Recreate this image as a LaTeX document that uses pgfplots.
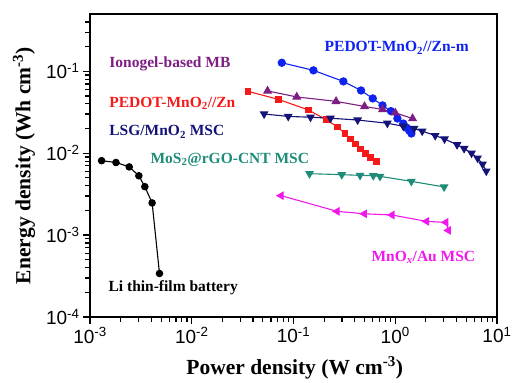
\documentclass[border=0pt]{standalone}
\usepackage{fontspec}
\setmainfont{Liberation Serif}
\setsansfont{Liberation Sans}
\usepackage{pgfplots}
\pgfplotsset{compat=1.18}
\definecolor{cBlue}{RGB}{15,35,240}
\definecolor{cPurple}{RGB}{125,30,130}
\definecolor{cRed}{RGB}{245,25,25}
\definecolor{cNavy}{RGB}{20,20,120}
\definecolor{cTeal}{RGB}{30,140,120}
\definecolor{cMag}{RGB}{240,25,235}
\newcommand{\lab}{\fontsize{15.5}{15.5}\selectfont\bfseries}
\newcommand{\axlab}{\fontsize{21.5}{21.5}\selectfont\bfseries}
\begin{document}
\begin{tikzpicture}
\begin{axis}[
  scale only axis,
  width=407pt, height=303pt,
  xmode=log, ymode=log,
  log basis x=10, log basis y=10,
  xmin=1e-3, xmax=10, ymin=1e-4, ymax=0.5,
  axis line style={line width=1.6pt},
  xtick pos=bottom, ytick pos=left,
  tick align=outside,
  xtick={1e-3,1e-2,1e-1,1,10},
  ytick={1e-4,1e-3,1e-2,1e-1},
  major tick length=7pt,
  tick style={black, line width=1.2pt},
  % intermediate ticks within each decade
  extra x ticks={2e-3,3e-3,4e-3,5e-3,6e-3,7e-3,8e-3,9e-3,
               2e-2,3e-2,4e-2,5e-2,6e-2,7e-2,8e-2,9e-2,
               0.2,0.3,0.4,0.5,0.6,0.7,0.8,0.9,2,3,4,5,6,7,8,9},
  extra y ticks={2e-4,3e-4,4e-4,5e-4,6e-4,7e-4,8e-4,9e-4,
               2e-3,3e-3,4e-3,5e-3,6e-3,7e-3,8e-3,9e-3,
               2e-2,3e-2,4e-2,5e-2,6e-2,7e-2,8e-2,9e-2,0.2,0.3,0.4},
  extra x tick labels={}, extra y tick labels={},
  extra tick style={major tick length=4.5pt},
  xticklabel={10\textsuperscript{\pgfmathparse{int(round(\tick))}\pgfmathresult}},
  yticklabel={10\textsuperscript{\pgfmathparse{int(round(\tick))}\pgfmathresult}},
  ticklabel style={font=\fontsize{19}{19}\selectfont\sffamily},
  xlabel={Power density (W cm\textsuperscript{-3})},
  ylabel={Energy density (Wh cm\textsuperscript{-3})},
  every axis x label/.style={at={(rel axis cs:0.503,-0.168)}, anchor=center, font=\axlab},
  every axis y label/.style={at={(rel axis cs:-0.162,0.5)}, anchor=center, rotate=90, font=\axlab},
  every axis plot/.append style={line width=1.1pt},
  clip=false,
]
% Li thin-film battery
\addplot[black, mark=*, mark size=3.2pt] coordinates {
 (1.30e-3,8.1e-3) (1.80e-3,7.7e-3) (2.43e-3,6.8e-3) (3.02e-3,5.3e-3)
 (3.46e-3,3.9e-3) (4.08e-3,2.47e-3) (4.82e-3,3.4e-4)};
% PEDOT-MnO2//Zn-m
\addplot[cBlue, mark=*, mark size=3.6pt] coordinates {
 (0.0767,0.127) (0.157,0.1026) (0.309,0.0752) (0.461,0.0583) (0.601,0.0466)
 (0.750,0.0383) (0.907,0.0326) (1.05,0.0265) (1.20,0.0230) (1.30,0.0204)
 (1.37,0.0189) (1.44,0.0174)};
% Ionogel-based MB
\addplot[cPurple, mark=triangle*, mark size=4.2pt] coordinates {
 (0.0556,0.0575) (0.1076,0.0486) (0.262,0.0429) (0.499,0.0372)
 (0.750,0.0342) (1.0,0.0311) (1.48,0.0265)};
% PEDOT-MnO2//Zn
\addplot[cRed, mark=square*, mark size=2.7pt] coordinates {
 (0.0358,0.0568) (0.0713,0.0453) (0.140,0.0337) (0.211,0.0256) (0.272,0.0208)
 (0.320,0.0174) (0.362,0.0150) (0.406,0.0129) (0.454,0.0113) (0.508,0.00998)
 (0.569,0.00883) (0.652,0.00789)};
% LSG/MnO2 MSC
\addplot[cNavy, mark=triangle*, mark options={rotate=180}, mark size=4pt] coordinates {
 (0.0514,0.0301) (0.0887,0.0281) (0.147,0.0275) (0.231,0.0267) (0.427,0.0254)
 (0.836,0.0232) (1.20,0.0213) (1.53,0.0200) (1.84,0.0186) (2.47,0.0164)
 (3.05,0.0149) (4.05,0.0127) (4.75,0.0114) (5.62,0.0100) (6.44,0.00871)
 (7.21,0.00736) (7.85,0.00604)};
% MoS2@rGO-CNT MSC
\addplot[cTeal, mark=triangle*, mark options={rotate=180}, mark size=4pt] coordinates {
 (0.1436,0.00562) (0.298,0.00547) (0.451,0.00536) (0.608,0.00532)
 (0.708,0.00521) (1.44,0.00453) (3.02,0.00387)};
% MnOx/Au MSC
\addplot[cMag, mark=triangle*, mark options={rotate=90}, mark size=4pt] coordinates {
 (0.0756,0.00303) (0.268,0.00195) (0.497,0.00182) (0.929,0.00176)
 (2.03,0.00147) (3.14,0.00143) (3.33,0.00114)};
% series names
\node[anchor=west, cPurple, font=\lab] at (rel axis cs:0.039,0.835) {Ionogel-based MB};
\node[anchor=west, cBlue, font=\lab] at (rel axis cs:0.568,0.888) {PEDOT-MnO\textsubscript{2}//Zn-m};
\node[anchor=west, cRed, font=\lab] at (rel axis cs:0.039,0.706) {PEDOT-MnO\textsubscript{2}//Zn};
\node[anchor=west, cNavy, font=\lab] at (rel axis cs:0.039,0.611) {LSG/MnO\textsubscript{2} MSC};
\node[anchor=west, cTeal, font=\lab] at (rel axis cs:0.140,0.518) {MoS\textsubscript{2}@rGO-CNT MSC};
\node[anchor=west, cMag, font=\lab] at (rel axis cs:0.683,0.198) {MnO\textsubscript{\itshape x}/Au MSC};
\node[anchor=west, black, font=\lab] at (rel axis cs:0.037,0.096) {Li thin-film battery};
\coordinate (lowleft) at (rel axis cs:0,0);
\coordinate (upright) at (rel axis cs:1,1);
\end{axis}
% page margins around the axis box
\path ([xshift=-90pt,yshift=-60pt]lowleft) rectangle ([xshift=20pt,yshift=14pt]upright);
\end{tikzpicture}
\end{document}
